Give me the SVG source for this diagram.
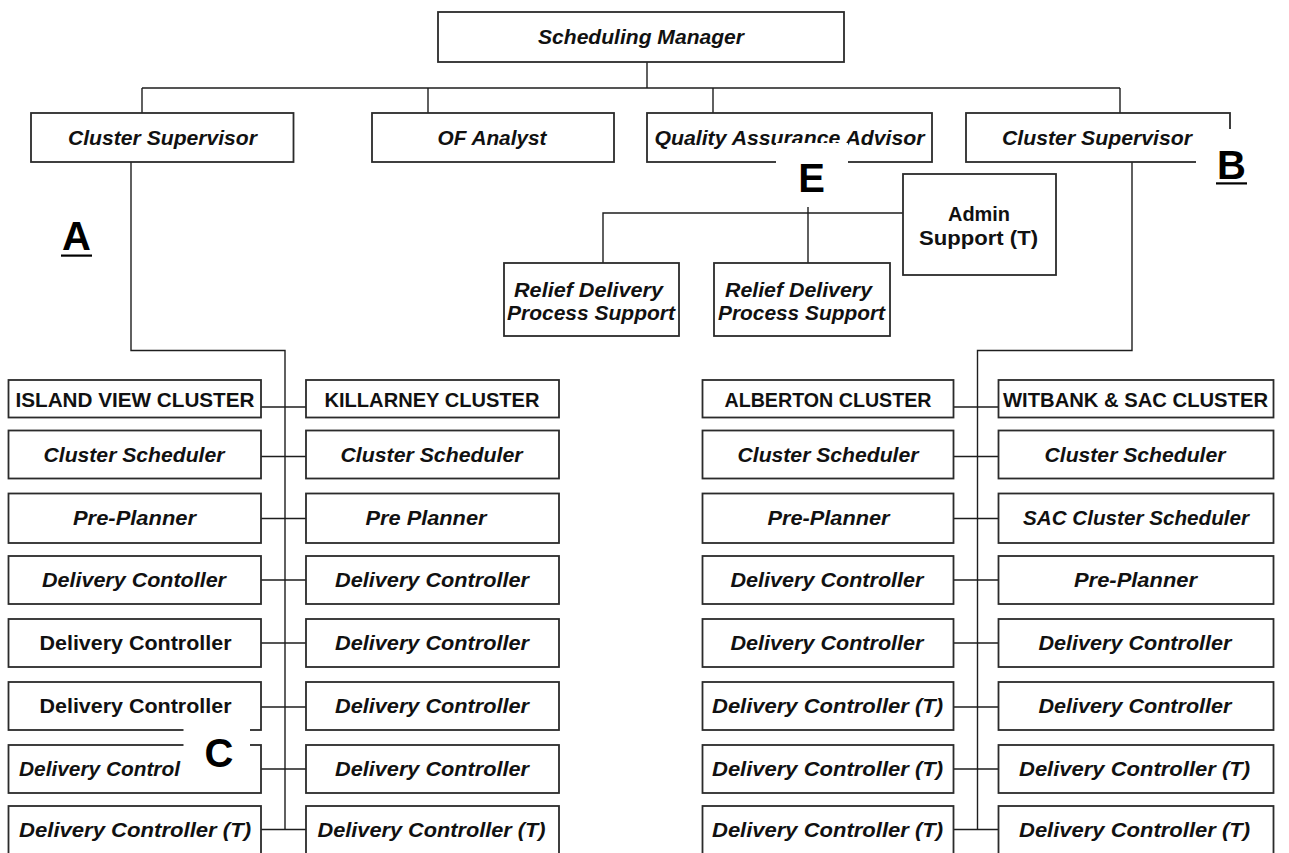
<svg xmlns="http://www.w3.org/2000/svg" width="1289" height="853" viewBox="0 0 1289 853">
  <style>
    .box { fill: #ffffff; stroke: #2b2b2b; stroke-width: 1.8; }
    .conn { fill: none; stroke: #1e1e1e; stroke-width: 1.4; }
    .t { font-family: "Liberation Sans", Arial, sans-serif; font-weight: bold; font-size: 20px; fill: #111111; text-anchor: middle; }
    .i { font-style: italic; }
    .lbl { font-family: "Liberation Sans", Arial, sans-serif; font-weight: bold; font-size: 40px; fill: #000000; text-anchor: middle; }
    .patch { fill: #ffffff; stroke: none; }
  </style>
  <rect width="1289" height="853" fill="#ffffff"/>

  <!-- connectors -->
  <g id="connectors" class="conn">
    <path d="M647,62 V88 M142,88 H1120 M142,88 V113 M428,88 V113 M713,88 V113 M1120,88 V113"/>
    <path d="M131,162 V350.5 H285 V829.5"/>
    <path d="M1132,162 V350.5 H977.5 V830"/>
    <path d="M903,213 H603 V263 M808,162 V263"/>
    <!-- left cluster pair rungs -->
    <path d="M261,407 H306 M261,456.5 H306 M261,518.5 H306 M261,580 H306 M261,643 H306 M261,707 H306 M261,769 H306 M261,829.5 H306"/>
    <!-- right cluster pair rungs -->
    <path d="M953.5,407 H998.5 M953.5,456.5 H998.5 M953.5,518.5 H998.5 M953.5,580 H998.5 M953.5,643 H998.5 M953.5,707 H998.5 M953.5,769 H998.5 M953.5,829.5 H998.5"/>
  </g>

  <!-- management tier -->
  <g id="scheduling-manager"><rect class="box" x="438" y="12" width="406" height="50"/><text class="t i" x="641" y="44" textLength="206" lengthAdjust="spacingAndGlyphs">Scheduling Manager</text></g>
  <g id="cluster-supervisor-a"><rect class="box" x="31" y="113" width="262.5" height="49"/><text class="t i" x="162.5" y="144.5" textLength="189" lengthAdjust="spacingAndGlyphs">Cluster Supervisor</text></g>
  <g id="of-analyst"><rect class="box" x="372" y="113" width="242" height="49"/><text class="t i" x="492" y="144.5" textLength="109" lengthAdjust="spacingAndGlyphs">OF Analyst</text></g>
  <g id="qa-advisor"><rect class="box" x="647" y="113" width="285" height="49"/><text class="t i" x="789.5" y="144.5" textLength="270" lengthAdjust="spacingAndGlyphs">Quality Assurance Advisor</text></g>
  <g id="cluster-supervisor-b"><rect class="box" x="966" y="113" width="264" height="49"/><text class="t i" x="1097" y="144.5" textLength="190" lengthAdjust="spacingAndGlyphs">Cluster Supervisor</text></g>

  <!-- support staff -->
  <g id="admin-support"><rect class="box" x="903" y="174" width="153" height="101"/><text class="t" x="979" y="221" textLength="62" lengthAdjust="spacingAndGlyphs">Admin</text><text class="t" x="978.5" y="245" textLength="119" lengthAdjust="spacingAndGlyphs">Support (T)</text></g>
  <g id="relief-support-1"><rect class="box" x="504" y="263" width="175" height="73"/><text class="t i" x="588.5" y="297" textLength="149" lengthAdjust="spacingAndGlyphs">Relief Delivery</text><text class="t i" x="591" y="320" textLength="168" lengthAdjust="spacingAndGlyphs">Process Support</text></g>
  <g id="relief-support-2"><rect class="box" x="714" y="263" width="176" height="73"/><text class="t i" x="798.5" y="297" textLength="147" lengthAdjust="spacingAndGlyphs">Relief Delivery</text><text class="t i" x="801.5" y="320" textLength="167" lengthAdjust="spacingAndGlyphs">Process Support</text></g>

  <!-- Island View cluster -->
  <g id="island-view-cluster"><rect class="box" x="8.5" y="380" width="252.5" height="37.5"/><text class="t" x="135" y="407" textLength="239" lengthAdjust="spacingAndGlyphs">ISLAND VIEW CLUSTER</text></g>
  <g id="iv-cluster-scheduler"><rect class="box" x="8.5" y="430.5" width="252.5" height="48"/><text class="t i" x="134" y="461.5" textLength="181" lengthAdjust="spacingAndGlyphs">Cluster Scheduler</text></g>
  <g id="iv-pre-planner"><rect class="box" x="8.5" y="493.5" width="252.5" height="49.5"/><text class="t i" x="134.5" y="525" textLength="123" lengthAdjust="spacingAndGlyphs">Pre-Planner</text></g>
  <g id="iv-delivery-1"><rect class="box" x="8.5" y="556" width="252.5" height="48"/><text class="t i" x="134" y="587" textLength="184" lengthAdjust="spacingAndGlyphs">Delivery Contoller</text></g>
  <g id="iv-delivery-2"><rect class="box" x="8.5" y="619" width="252.5" height="48"/><text class="t" x="135.5" y="650" textLength="192" lengthAdjust="spacingAndGlyphs">Delivery Controller</text></g>
  <g id="iv-delivery-3"><rect class="box" x="8.5" y="682" width="252.5" height="48"/><text class="t" x="135.5" y="713" textLength="192" lengthAdjust="spacingAndGlyphs">Delivery Controller</text></g>
  <g id="iv-delivery-4"><rect class="box" x="8.5" y="745" width="252.5" height="48"/><text class="t i" x="19" y="776" style="text-anchor:start" textLength="161" lengthAdjust="spacingAndGlyphs">Delivery Control</text></g>
  <g id="iv-delivery-5"><rect class="box" x="8.5" y="806" width="252.5" height="49"/><text class="t i" x="135" y="837" textLength="232" lengthAdjust="spacingAndGlyphs">Delivery Controller (T)</text></g>

  <!-- Killarney cluster -->
  <g id="killarney-cluster"><rect class="box" x="306" y="380" width="253" height="37.5"/><text class="t" x="432" y="407" textLength="215" lengthAdjust="spacingAndGlyphs">KILLARNEY CLUSTER</text></g>
  <g id="kl-cluster-scheduler"><rect class="box" x="306" y="430.5" width="253" height="48"/><text class="t i" x="431.5" y="461.5" textLength="182" lengthAdjust="spacingAndGlyphs">Cluster Scheduler</text></g>
  <g id="kl-pre-planner"><rect class="box" x="306" y="493.5" width="253" height="49.5"/><text class="t i" x="426" y="525" textLength="121" lengthAdjust="spacingAndGlyphs">Pre Planner</text></g>
  <g id="kl-delivery-1"><rect class="box" x="306" y="556" width="253" height="48"/><text class="t i" x="432" y="587" textLength="194" lengthAdjust="spacingAndGlyphs">Delivery Controller</text></g>
  <g id="kl-delivery-2"><rect class="box" x="306" y="619" width="253" height="48"/><text class="t i" x="432" y="650" textLength="194" lengthAdjust="spacingAndGlyphs">Delivery Controller</text></g>
  <g id="kl-delivery-3"><rect class="box" x="306" y="682" width="253" height="48"/><text class="t i" x="432" y="713" textLength="194" lengthAdjust="spacingAndGlyphs">Delivery Controller</text></g>
  <g id="kl-delivery-4"><rect class="box" x="306" y="745" width="253" height="48"/><text class="t i" x="432" y="776" textLength="194" lengthAdjust="spacingAndGlyphs">Delivery Controller</text></g>
  <g id="kl-delivery-5"><rect class="box" x="306" y="806" width="253" height="49"/><text class="t i" x="431.5" y="837" textLength="228" lengthAdjust="spacingAndGlyphs">Delivery Controller (T)</text></g>

  <!-- Alberton cluster -->
  <g id="alberton-cluster"><rect class="box" x="702.5" y="380" width="251" height="37.5"/><text class="t" x="828" y="407" textLength="207" lengthAdjust="spacingAndGlyphs">ALBERTON CLUSTER</text></g>
  <g id="ab-cluster-scheduler"><rect class="box" x="702.5" y="430.5" width="251" height="48"/><text class="t i" x="828" y="461.5" textLength="181" lengthAdjust="spacingAndGlyphs">Cluster Scheduler</text></g>
  <g id="ab-pre-planner"><rect class="box" x="702.5" y="493.5" width="251" height="49.5"/><text class="t i" x="828.5" y="525" textLength="122" lengthAdjust="spacingAndGlyphs">Pre-Planner</text></g>
  <g id="ab-delivery-1"><rect class="box" x="702.5" y="556" width="251" height="48"/><text class="t i" x="827" y="587" textLength="193" lengthAdjust="spacingAndGlyphs">Delivery Controller</text></g>
  <g id="ab-delivery-2"><rect class="box" x="702.5" y="619" width="251" height="48"/><text class="t i" x="827" y="650" textLength="193" lengthAdjust="spacingAndGlyphs">Delivery Controller</text></g>
  <g id="ab-delivery-3"><rect class="box" x="702.5" y="682" width="251" height="48"/><text class="t i" x="827.5" y="713" textLength="231" lengthAdjust="spacingAndGlyphs">Delivery Controller (T)</text></g>
  <g id="ab-delivery-4"><rect class="box" x="702.5" y="745" width="251" height="48"/><text class="t i" x="827.5" y="776" textLength="231" lengthAdjust="spacingAndGlyphs">Delivery Controller (T)</text></g>
  <g id="ab-delivery-5"><rect class="box" x="702.5" y="806" width="251" height="49"/><text class="t i" x="827.5" y="837" textLength="231" lengthAdjust="spacingAndGlyphs">Delivery Controller (T)</text></g>

  <!-- Witbank & SAC cluster -->
  <g id="witbank-sac-cluster"><rect class="box" x="998.5" y="380" width="275" height="37.5"/><text class="t" x="1135.5" y="407" textLength="265" lengthAdjust="spacingAndGlyphs">WITBANK &amp; SAC CLUSTER</text></g>
  <g id="wb-cluster-scheduler"><rect class="box" x="998.5" y="430.5" width="275" height="48"/><text class="t i" x="1135" y="461.5" textLength="181" lengthAdjust="spacingAndGlyphs">Cluster Scheduler</text></g>
  <g id="wb-sac-scheduler"><rect class="box" x="998.5" y="493.5" width="275" height="49.5"/><text class="t i" x="1136" y="525" textLength="226" lengthAdjust="spacingAndGlyphs">SAC Cluster Scheduler</text></g>
  <g id="wb-pre-planner"><rect class="box" x="998.5" y="556" width="275" height="48"/><text class="t i" x="1135.5" y="587" textLength="123" lengthAdjust="spacingAndGlyphs">Pre-Planner</text></g>
  <g id="wb-delivery-1"><rect class="box" x="998.5" y="619" width="275" height="48"/><text class="t i" x="1135" y="650" textLength="193" lengthAdjust="spacingAndGlyphs">Delivery Controller</text></g>
  <g id="wb-delivery-2"><rect class="box" x="998.5" y="682" width="275" height="48"/><text class="t i" x="1135" y="713" textLength="193" lengthAdjust="spacingAndGlyphs">Delivery Controller</text></g>
  <g id="wb-delivery-3"><rect class="box" x="998.5" y="745" width="275" height="48"/><text class="t i" x="1134.5" y="776" textLength="231" lengthAdjust="spacingAndGlyphs">Delivery Controller (T)</text></g>
  <g id="wb-delivery-4"><rect class="box" x="998.5" y="806" width="275" height="49"/><text class="t i" x="1134.5" y="837" textLength="231" lengthAdjust="spacingAndGlyphs">Delivery Controller (T)</text></g>

  <!-- section markers, each on its own white backing -->
  <g id="marker-a"><text class="lbl" x="76.5" y="250">A</text><rect x="61" y="254.5" width="31" height="2.2" fill="#000"/></g>
  <g id="marker-b"><rect class="patch" x="1196" y="129" width="66" height="62"/><text class="lbl" x="1231.5" y="178.5">B</text><rect x="1216" y="182.3" width="31" height="2.2" fill="#000"/></g>
  <g id="marker-c"><rect class="patch" x="183.5" y="727" width="66.5" height="63"/><text class="lbl" x="219" y="766.5">C</text></g>
  <g id="marker-e"><rect class="patch" x="776" y="143" width="72" height="64"/><text class="lbl" x="811.5" y="191.5">E</text></g>
</svg>
